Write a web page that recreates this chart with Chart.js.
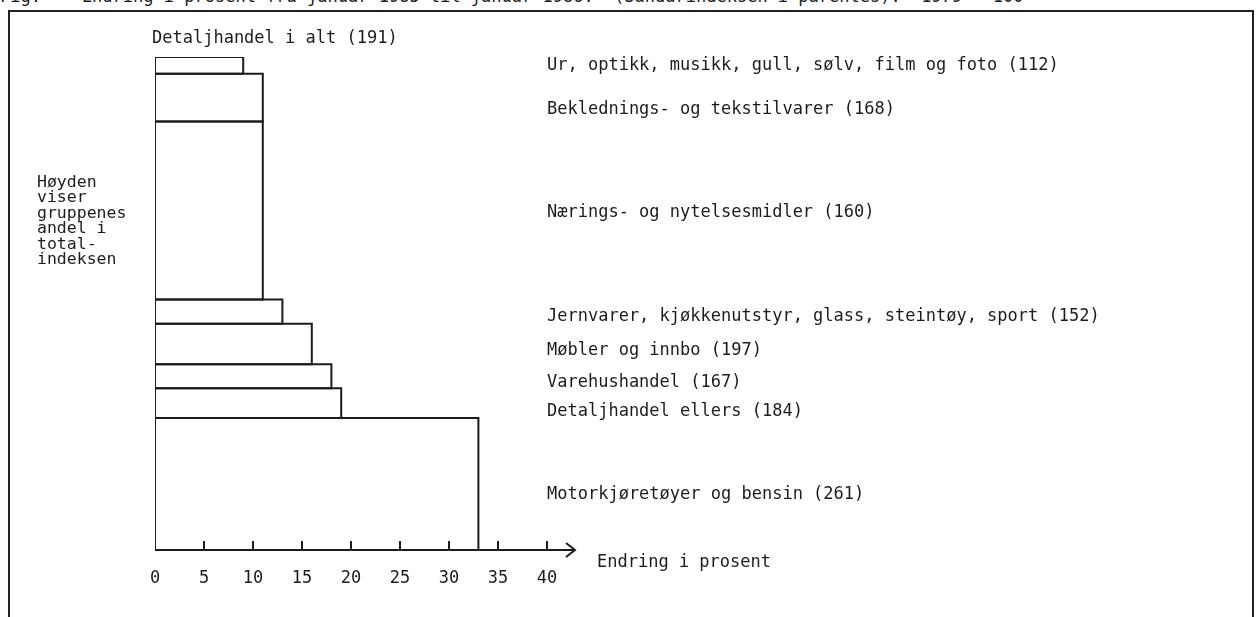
<!DOCTYPE html>
<html>
<head>
<meta charset="utf-8">
<script src="https://cdn.jsdelivr.net/npm/chart.js@4.4.1/dist/chart.umd.min.js"></script>
<style>
  body{margin:0;background:#fff;overflow:hidden;}
  #wrap{position:relative;width:1257px;height:617px;overflow:hidden;}
  #frame{position:absolute;left:8px;top:10px;width:1246px;height:640px;border:2px solid #222;box-sizing:border-box;}
  canvas{position:absolute;left:0;top:0;}
  .t{position:absolute;white-space:pre;font-family:"DejaVu Sans Mono",monospace;font-size:17px;line-height:18px;color:#1c1c1c;}
  #note{line-height:15.4px;font-size:16.5px;}
</style>
</head>
<body>
<div id="wrap">
  <div class="t" id="title" style="left:0;top:-13px">Fig.    Endring i prosent fra januar 1985 til januar 1986.  (Sandarindeksen i parentes).  1979 = 100</div>
  <div id="frame"></div>
  <canvas id="chart" width="1257" height="617"></canvas>
  <div class="t" style="left:152px;top:28px">Detaljhandel i alt (191)</div>
  <div class="t" id="note" style="left:37px;top:174px">Høyden
viser
gruppenes
andel i
total-
indeksen</div>
  <div class="t" style="left:597px;top:552px">Endring i prosent</div>
  <div id="labels"></div>
</div>
<script>
// grupper, ovenfra og ned
let categories = ["Ur, optikk, musikk, gull, sølv, film og foto", "Beklednings- og tekstilvarer",
  "Nærings- og nytelsesmidler", "Jernvarer, kjøkkenutstyr, glass, steintøy, sport",
  "Møbler og innbo", "Varehushandel", "Detaljhandel ellers", "Motorkjøretøyer og bensin"];
let indexValues = [112, 168, 160, 152, 197, 167, 184, 261];
// endring i prosent (bredde)
let changes = [9, 11, 11, 13, 16, 18, 19, 33];
// andel i totalindeksen (høyde)
let shares = [3.4, 9.7, 36.1, 4.9, 8.2, 4.9, 6.0, 26.8];
let xTicks = [0, 5, 10, 15, 20, 25, 30, 35, 40];

// label placement (px from top)
let labelTops = [55, 99, 202, 306, 340, 372, 401, 484];

let labelBox = document.getElementById("labels");
categories.forEach((c, i) => {
  let d = document.createElement("div");
  d.className = "t";
  d.style.left = "547px";
  d.style.top = labelTops[i] + "px";
  d.textContent = c + " (" + indexValues[i] + ")";
  labelBox.appendChild(d);
});

// build rectangles, stacked from the axis upwards
let datasets = [];
let base = 0;
for (let i = categories.length - 1; i >= 0; i--) {
  let lo = base, hi = base + shares[i];
  datasets.push({
    label: categories[i],
    data: [{x:0,y:lo},{x:changes[i],y:lo},{x:changes[i],y:hi},{x:0,y:hi},{x:0,y:lo}],
    borderColor: "#1c1c1c",
    borderWidth: 2,
    pointRadius: 0,
    fill: false,
    tension: 0
  });
  base = hi;
}
let total = base;

let axisPlugin = {
  id: "axisArrow",
  afterDraw(chart){
    let ctx = chart.ctx;
    let xs = chart.scales.x;
    let y0 = chart.scales.y.getPixelForValue(0);
    let x0 = xs.getPixelForValue(0);
    let xEnd = xs.getPixelForValue(40) + 28;
    ctx.save();
    ctx.strokeStyle = "#1c1c1c";
    ctx.lineWidth = 2;
    ctx.beginPath();
    ctx.moveTo(x0, y0);
    ctx.lineTo(xEnd, y0);
    ctx.moveTo(xEnd - 9, y0 - 7);
    ctx.lineTo(xEnd, y0);
    ctx.lineTo(xEnd - 9, y0 + 7);
    xTicks.forEach(v => {
      if(v === 0) return;
      let px = xs.getPixelForValue(v);
      ctx.moveTo(px, y0);
      ctx.lineTo(px, y0 - 9);
    });
    ctx.stroke();
    ctx.restore();
  }
};

new Chart(document.getElementById("chart"), {
  type: "line",
  data: { datasets: datasets },
  plugins: [axisPlugin],
  options: {
    responsive: false,
    animation: false,
    layout: { padding: { left: 155, right: 1257 - 547, top: 57, bottom: 27 } },
    plugins: { legend: { display: false }, tooltip: { enabled: false } },
    scales: {
      x: {
        type: "linear",
        min: 0, max: 40,
        afterBuildTicks: s => { s.ticks = xTicks.map(v => ({value: v})); },
        afterFit: s => { s.height = 40; },
        grid: { display: false, drawTicks: false },
        border: { display: false },
        ticks: { color: "#1c1c1c", padding: 18, font: { family: "DejaVu Sans Mono", size: 17 } }
      },
      y: {
        type: "linear",
        min: 0, max: total,
        display: false
      }
    }
  }
});
</script>
</body>
</html>
